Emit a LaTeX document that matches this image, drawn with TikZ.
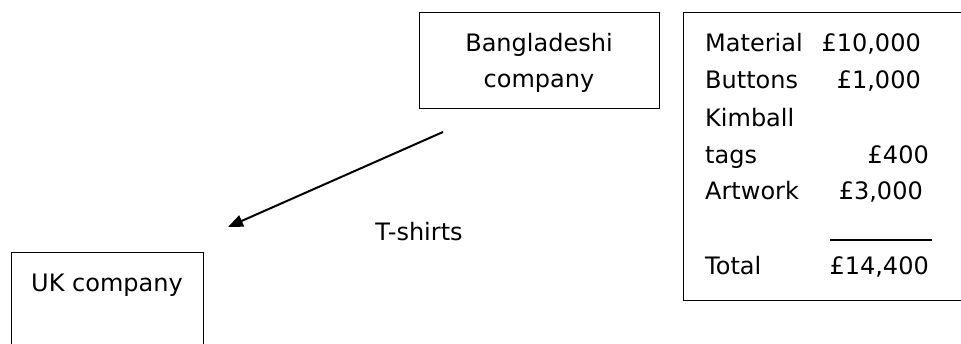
\documentclass[tikz,border=0pt]{standalone}
\usepackage{fontspec}
\setmainfont{DejaVu Sans}
\usetikzlibrary{arrows.meta}

\tikzset{
  box/.style={draw=black, line width=1.2pt, rectangle, inner sep=0pt},
  txt/.style={font=\fontsize{24}{30}\selectfont, inner sep=0pt, text=black},
  flow/.style={line width=2pt, -{Triangle[length=15pt,width=12pt]}},
}

\begin{document}
\begin{tikzpicture}[x=1pt,y=-1pt]
  \useasboundingbox (0,0) rectangle (961,344);
  \clip (0,0) rectangle (961,344);

  % Boxes (the cost box and the UK box run past the page edges)
  \node[box, minimum width=240pt, minimum height=96pt, anchor=north west] (bd) at (419,12) {};
  \node[box, minimum width=340pt, minimum height=288pt, anchor=north west] (costs) at (683,12) {};
  \node[box, minimum width=192pt, minimum height=130pt, anchor=north west] (uk) at (11,252) {};

  % Box captions
  \node[txt, anchor=base] (bd1) at (539,52) {Bangladeshi};
  \node[txt, anchor=base] (bd2) at (539,88) {company};
  \node[txt, anchor=base] (ukt) at (107,292) {UK company};

  % Cost breakdown
  \node[txt, anchor=base west] (l1) at (705,52)  {Material};
  \node[txt, anchor=base west] (l2) at (705,89)  {Buttons};
  \node[txt, anchor=base west] (l3) at (705,127) {Kimball};
  \node[txt, anchor=base west] (l4) at (705,164) {tags};
  \node[txt, anchor=base west] (l5) at (705,200) {Artwork};
  \node[txt, anchor=base west] (l6) at (705,275) {Total};

  \node[txt, anchor=base east] (a1) at (921,52)  {£10,000};
  \node[txt, anchor=base east] (a2) at (921,89)  {£1,000};
  \node[txt, anchor=base east] (a4) at (929,164) {£400};
  \node[txt, anchor=base east] (a5) at (923,200) {£3,000};
  \node[txt, anchor=base east] (a6) at (929,275) {£14,400};

  \coordinate (rulea) at (830,240);
  \coordinate (ruleb) at (932,240);
  \draw[line width=1.3pt] (rulea) -- (ruleb);

  % Flow of goods
  \coordinate (from) at (443,132);
  \coordinate (to) at (228,227);
  \draw[flow] (from) -- (to);
  \node[txt, anchor=base] (goods) at (419,241) {T-shirts};
\end{tikzpicture}
\end{document}
